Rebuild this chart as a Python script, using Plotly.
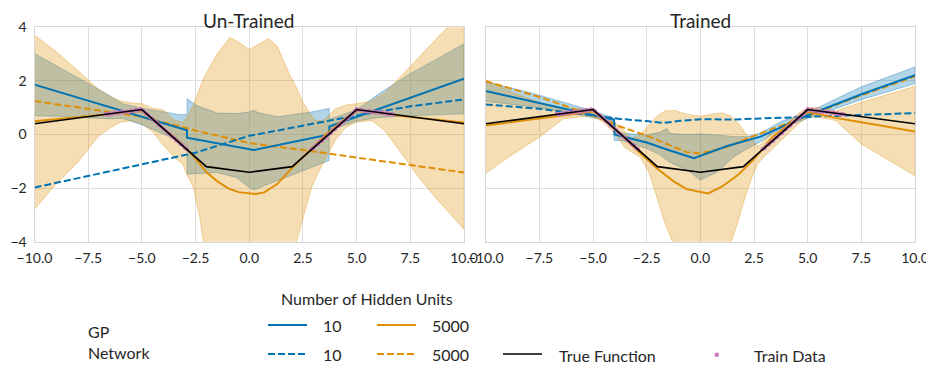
import plotly.graph_objects as go
from plotly.subplots import make_subplots

W, H = 934, 378
OFF = 8  # the page body has an 8px margin, so the figure is drawn 8px in from the corner
FW, FH = W - OFF, H - OFF
BLUE = '#0173B2'
ORANGE = '#DE8F05'
PINK = '#CC78BC'
INK = '#262626'
FONT = 'Lato'

x_ticks = [-10, -7.5, -5, -2.5, 0, 2.5, 5, 7.5, 10]
y_ticks = [-4, -2, 0, 2, 4]
titles = ['Un-Trained', 'Trained']

# true function and training points (same in both panels)
true_x = [-10, -5, -2, 0, 2, 5, 10]
true_y = [0.40, 0.93, -1.20, -1.41, -1.20, 0.93, 0.40]

train_x = [-6.7, -6.6, -6.5, -6.4, -6.3, -6.2, -6.1, -6.0, -5.9, -5.8, -5.7, -5.6, -5.5, -5.4, -5.3, -5.2, -5.1, -5.0,
           -4.9, -4.8, -4.7, -4.6, -4.5, -4.4, -4.3, -4.2, -4.1, -4.0, -3.9, -3.8, -3.7, -3.6, -3.5, -3.4, -3.3, -3.2,
           -3.1, -3.0, -2.9,
           2.9, 3.0, 3.1, 3.2, 3.3, 3.4, 3.5, 3.6, 3.7, 3.8, 3.9, 4.0, 4.1, 4.2, 4.3, 4.4, 4.5, 4.6, 4.7, 4.8, 4.9,
           5.0, 5.1, 5.2, 5.3, 5.4, 5.5, 5.6, 5.7, 5.8, 5.9, 6.0, 6.1, 6.2, 6.3, 6.4, 6.5, 6.6, 6.7]
train_y = [0.77, 0.74, 0.79, 0.76, 0.81, 0.79, 0.83, 0.81, 0.86, 0.83, 0.87, 0.85, 0.90, 0.87, 0.92, 0.89, 0.94, 0.92,
           0.87, 0.77, 0.73, 0.63, 0.59, 0.49, 0.45, 0.35, 0.30, 0.21, 0.16, 0.06, 0.02, -0.08, -0.12, -0.22, -0.26,
           -0.36, -0.40, -0.50, -0.55,
           -0.54, -0.51, -0.40, -0.37, -0.26, -0.24, -0.13, -0.09, 0.02, 0.05, 0.16, 0.20, 0.30, 0.34, 0.45, 0.48,
           0.59, 0.62, 0.72, 0.76, 0.87,
           0.95, 0.91, 0.93, 0.88, 0.90, 0.86, 0.88, 0.84, 0.86, 0.82, 0.84, 0.80, 0.82, 0.77, 0.79, 0.75, 0.77, 0.74]

# ---- un-trained ----
ut_gp10_x = [-10, -2.9, -2.9, 0.2, 3.73, 3.73, 10]
ut_gp10_y = [1.86, 0.16, -0.12, -0.58, 0.0, 0.30, 2.08]
ut_gp10_bx = [-10, -8.5, -7.5, -6.5, -5.9, -5, -4, -3.3, -2.9, -2.89, -2.5, -1.5, -0.6, 0, 0.2, 0.4, 1.3, 2.9,
              3.72, 3.73, 4.2, 5, 6, 7.5, 10]
ut_gp10_hi = [3.02, 2.33, 1.90, 1.45, 1.15, 0.98, 0.83, 0.75, 0.74, 1.34, 1.10, 0.80, 0.78, 0.84, 0.91, 0.82, 0.66,
              0.84, 0.97, 0.56, 0.70, 0.92, 1.50, 2.27, 3.38]
ut_gp10_lo = [0.70, 0.67, 0.62, 0.59, 0.60, 0.36, 0.02, -0.22, -0.40, -1.48, -1.45, -1.42, -1.60, -1.98, -2.07,
              -2.00, -1.72, -1.22, -0.97, 0.16, 0.30, 0.50, 0.63, 0.70, 0.77]

ut_gp5000_x = [-10, -7.5, -5, -4.5, -4, -3.5, -3, -2.5, -2, -1.5, -1, -0.5, 0, 0.3, 0.7, 1.3, 2, 2.5, 3, 3.5, 4,
               4.5, 5, 6, 7.5, 10]
ut_gp5000_y = [0.49, 0.68, 0.88, 0.60, 0.26, -0.08, -0.45, -0.90, -1.40, -1.74, -2.00, -2.15, -2.20, -2.22, -2.16,
               -1.85, -1.24, -0.86, -0.45, -0.05, 0.30, 0.62, 0.88, 0.80, 0.65, 0.45]
ut_gp5000_bx = [-10, -9, -8, -7.5, -7, -6.5, -6, -5.5, -5, -4.5, -4, -3.5, -3.1, -2.9, -2.6, -2.3, -2.1, -1.5, -1.0,
                -0.9, -0.5, 0, 0.5, 0.9, 1.3, 1.9, 2.2, 2.5, 2.9, 3.1, 3.5, 4, 4.5, 5, 5.7, 6.3, 7.1, 7.9, 8.8, 10]
ut_gp5000_hi = [3.71, 3.10, 2.40, 2.03, 1.68, 1.43, 1.25, 1.18, 1.15, 0.98, 0.92, 0.55, 0.45, 0.65, 1.10, 1.75,
                2.15, 3.00, 3.52, 3.62, 3.45, 3.17, 3.40, 3.58, 3.30, 2.20, 1.75, 1.20, 0.70, 0.50, 0.55, 0.95, 1.10,
                1.15, 1.25, 1.55, 2.20, 2.90, 3.65, 4.60]
ut_gp5000_lo = [-2.79, -1.85, -1.05, -0.54, -0.05, 0.22, 0.46, 0.52, 0.40, 0.10, -0.40, -0.85, -1.10, -1.50, -1.98,
                -3.10, -4.20, -5.80, -6.50, -6.60, -6.90, -7.00, -6.90, -6.60, -6.20, -4.60, -4.00, -3.10, -1.98,
                -1.60, -0.98, -0.22, 0.27, 0.46, 0.52, 0.15, -0.72, -1.60, -2.47, -3.54]

ut_net10_x = [-10, -7.5, -5, -2.5, 0, 2.5, 5, 7.5, 10]
ut_net10_y = [-1.98, -1.55, -1.12, -0.68, -0.05, 0.34, 0.71, 1.05, 1.31]
ut_net5000_x = [-10, -7.5, -5, -2.5, 0, 2.5, 5, 7.5, 10]
ut_net5000_y = [1.25, 0.95, 0.66, 0.15, -0.32, -0.58, -0.86, -1.12, -1.42]

# ---- trained ----
tr_gp10_x = [-10, -4.02, -4.0, -2.5, -1.56, -0.3, 1.25, 2.8, 5, 7.5, 10]
tr_gp10_y = [1.62, 0.55, 0.0, -0.30, -0.56, -0.88, -0.43, -0.08, 0.72, 1.50, 2.21]
tr_gp10_bx = [-10, -8, -6, -5, -4.02, -4.01, -3.9, -3.5, -2.5, -1.9, -1.56, -1.4, -0.6, -0.3, 0, 0.8, 1.56, 2.2,
              2.8, 3.8, 5, 7.5, 10]
tr_gp10_hi = [1.96, 1.58, 1.12, 0.86, 0.62, 0.62, 0.04, 0.04, -0.02, 0.08, 0.22, 0.04, 0.00, 0.00, 0.02, -0.02,
              -0.08, -0.08, 0.05, 0.50, 0.82, 1.78, 2.52]
tr_gp10_lo = [1.24, 1.05, 0.80, 0.64, 0.46, -0.22, -0.22, -0.25, -0.52, -0.75, -0.96, -1.05, -1.33, -1.50, -1.70,
              -1.39, -0.83, -0.52, -0.27, 0.25, 0.60, 1.30, 1.90]

tr_gp5000_x = [-10, -7.5, -5, -4.05, -3, -2.03, -1.26, -0.64, 0, 0.36, 1, 1.76, 2, 2.5, 3.3, 4, 5, 6.3, 7.5, 10]
tr_gp5000_y = [0.34, 0.60, 0.86, 0.27, -0.55, -1.26, -1.74, -2.04, -2.16, -2.20, -1.95, -1.50, -1.32, -0.92, -0.15,
               0.32, 0.84, 0.62, 0.46, 0.11]
tr_gp5000_bx = [-10, -8.7, -7.5, -6.4, -5.6, -5, -4.5, -4, -3.5, -3.2, -2.8, -2.4, -2.0, -1.65, -1.2, -0.6, 0, 0.5,
                1.0, 1.4, 1.77, 2.1, 2.4, 2.7, 2.9, 3.2, 3.6, 3.9, 4.2, 4.6, 5.0, 5.5, 6.3, 7.5, 10]
tr_gp5000_hi = [2.05, 1.55, 1.20, 0.93, 0.97, 0.93, 0.68, 0.45, 0.10, -0.15, 0.00, 0.35, 0.70, 0.88, 0.90, 0.75,
                0.68, 0.76, 0.80, 0.70, 0.42, 0.05, -0.20, -0.45, -0.30, 0.00, 0.10, 0.20, 0.55, 0.80, 1.00, 1.00,
                0.88, 1.20, 1.80]
tr_gp5000_lo = [-1.45, -0.72, -0.10, 0.58, 0.66, 0.66, 0.45, 0.05, -0.50, -0.65, -0.85, -1.40, -2.40, -3.30, -4.20,
                -5.00, -5.50, -5.20, -4.70, -4.10, -3.20, -2.30, -1.60, -1.05, -0.90, -0.65, -0.35, -0.12, 0.10,
                0.42, 0.64, 0.65, 0.52, -0.35, -1.54]

tr_net10_x = [-10, -7.5, -5, -3.74, -2.5, -1.72, -0.95, 0, 1.5, 2.5, 5, 7.5, 10]
tr_net10_y = [1.12, 0.96, 0.71, 0.58, 0.50, 0.43, 0.51, 0.57, 0.56, 0.59, 0.67, 0.75, 0.80]
tr_net5000_x = [-10, -7.5, -5, -3.74, -2.5, -1.57, -0.64, 0, 1.29, 2.5, 5, 7.5, 10]
tr_net5000_y = [1.99, 1.40, 0.71, 0.30, -0.04, -0.35, -0.66, -0.71, -0.45, -0.05, 0.71, 1.46, 2.17]

DASH = '7px,3px'


def rgba(c, a):
    c = c.lstrip('#')
    return 'rgba(%d,%d,%d,%s)' % (int(c[0:2], 16), int(c[2:4], 16), int(c[4:6], 16), a)


def band(fig, col, x, lo, hi, color):
    fig.add_trace(go.Scatter(x=x + x[::-1], y=hi + lo[::-1], mode='lines', fill='toself',
                             fillcolor=rgba(color, 0.3), line=dict(color=rgba(color, 0.35), width=1),
                             hoverinfo='skip', showlegend=False), row=1, col=col)


def curve(fig, col, x, y, color, dash='solid', width=2):
    fig.add_trace(go.Scatter(x=x, y=y, mode='lines', line=dict(color=color, width=width, dash=dash),
                             showlegend=False), row=1, col=col)


def draw_panel(fig, col, gp10, gp10_band, gp5000, gp5000_band, net10, net5000):
    band(fig, col, *gp10_band, BLUE)
    band(fig, col, *gp5000_band, ORANGE)
    curve(fig, col, *net5000, ORANGE, DASH)
    curve(fig, col, *net10, BLUE, DASH)
    curve(fig, col, *gp10, BLUE)
    curve(fig, col, *gp5000, ORANGE)
    fig.add_trace(go.Scatter(x=train_x, y=train_y, mode='markers', marker=dict(color=PINK, size=4),
                             showlegend=False), row=1, col=col)
    curve(fig, col, true_x, true_y, 'black', width=1.6)


# pixel position in the 934x378 window -> paper fraction of the figure
def px(x):
    return (x - OFF) / FW


def py(y):
    return 1 - (y - OFF) / FH


fig = make_subplots(rows=1, cols=2)
draw_panel(fig, 1, (ut_gp10_x, ut_gp10_y), (ut_gp10_bx, ut_gp10_lo, ut_gp10_hi),
           (ut_gp5000_x, ut_gp5000_y), (ut_gp5000_bx, ut_gp5000_lo, ut_gp5000_hi),
           (ut_net10_x, ut_net10_y), (ut_net5000_x, ut_net5000_y))
draw_panel(fig, 2, (tr_gp10_x, tr_gp10_y), (tr_gp10_bx, tr_gp10_lo, tr_gp10_hi),
           (tr_gp5000_x, tr_gp5000_y), (tr_gp5000_bx, tr_gp5000_lo, tr_gp5000_hi),
           (tr_net10_x, tr_net10_y), (tr_net5000_x, tr_net5000_y))

axis_common = dict(showgrid=True, gridcolor='#dedede', gridwidth=1, zeroline=False, showline=True,
                   mirror=True, linecolor='#d6d6d6', linewidth=1, ticks='', automargin=False,
                   tickfont=dict(family=FONT, size=14, color=INK))
fig.update_xaxes(range=[-10, 10], tickvals=x_ticks, tickformat='.1f', ticklabelstandoff=3, **axis_common)
fig.update_yaxes(range=[-4, 4], tickvals=y_ticks, domain=[py(241.7), py(27.3)], ticklabelstandoff=4,
                 **axis_common)
fig.update_layout(xaxis=dict(domain=[px(34.5), px(464)]), xaxis2=dict(domain=[px(485.7), px(915)]))
fig.update_yaxes(showticklabels=False, row=1, col=2)

annotations = []
for t, cx in zip(titles, [249, 700]):
    annotations.append(dict(text=t, x=px(cx), y=py(20), xref='paper', yref='paper', showarrow=False,
                            xanchor='center', yanchor='middle', borderpad=0,
                            font=dict(family=FONT, size=19, color=INK)))

# legend, laid out by hand like the matplotlib one
legend_font = dict(family=FONT, size=16, color=INK)
legend_text = [('Number of Hidden Units', 367, 298, 'center'),
               ('GP', 86, 331, 'left'), ('Network', 86, 352, 'left'),
               ('10', 321, 325, 'left'), ('5000', 430, 325, 'left'),
               ('10', 321, 354, 'left'), ('5000', 430, 354, 'left'),
               ('True Function', 557, 355, 'left'), ('Train Data', 752, 355, 'left')]
for t, x, y, anchor in legend_text:
    annotations.append(dict(text=t, x=px(x), y=py(y), xref='paper', yref='paper', showarrow=False,
                            xanchor=anchor, yanchor='middle', font=legend_font))

shapes = []
legend_lines = [(268, 307, 325, BLUE, 'solid', 2), (377, 416, 325, ORANGE, 'solid', 2),
                (268, 307, 354, BLUE, DASH, 2), (377, 416, 354, ORANGE, DASH, 2),
                (503, 542, 354, 'black', 'solid', 1.6)]
for x0, x1, y, c, d, w in legend_lines:
    shapes.append(dict(type='line', xref='paper', yref='paper', x0=px(x0), x1=px(x1), y0=py(y), y1=py(y),
                       line=dict(color=c, width=w, dash=d)))
shapes.append(dict(type='circle', xref='paper', yref='paper', x0=px(714.5), x1=px(719), y0=py(352.5), y1=py(357),
                   fillcolor=PINK, line=dict(width=0)))

fig.update_layout(width=FW, height=FH, autosize=False, margin=dict(l=0, r=0, t=0, b=0),
                  plot_bgcolor='white', paper_bgcolor='white', showlegend=False,
                  font=dict(family=FONT, color=INK), annotations=annotations, shapes=shapes)

fig.write_html("out.html")
